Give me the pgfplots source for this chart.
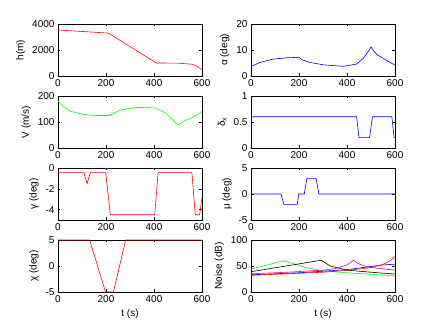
\documentclass[border=0pt]{standalone}
\usepackage{fontspec}
\setmainfont{Liberation Sans}
\usepackage{pgfplots}
\pgfplotsset{compat=1.18}
\pgfplotsset{
  mat/.style={
    scale only axis, width=144pt, height=52pt,
    anchor=south west,
    xmin=0, xmax=600, xtick={0,200,400,600},
    tick align=inside, major tick length=2.5pt,
    axis line style={line width=0.5pt},
    every tick/.style={black, line width=0.4pt},
    ticklabel style={font=\fontsize{10}{12}\selectfont},
    label style={font=\fontsize{10}{12}\selectfont},
    /pgf/number format/assume math mode=true,
    /pgf/number format/1000 sep={},
    scaled y ticks=false,
    every axis plot/.append style={line width=0.6pt, mark=none},
  }
}

\begin{document}
\begin{tikzpicture}[x=1pt,y=1pt]
\path (0,0) rectangle (437,328);

% row 1
\begin{axis}[mat, at={(58pt,252pt)}, ymin=0, ymax=4000, ytick={0,2000,4000}, ylabel={h(m)}]
\addplot[red] coordinates {(0,3540) (210,3300) (410,1000) (500,990) (560,900) (580,750) (600,460)};
\end{axis}
\begin{axis}[mat, at={(251pt,252pt)}, ymin=0, ymax=20, ytick={0,10,20}, ylabel={α (deg)}]
\addplot[blue] coordinates {(0,3.6) (37,5.2) (93,6.5) (149,7.0) (201,7.2) (211,6.3) (246,5.2) (301,4.3) (385,3.7) (440,4.6) (468,6.8) (490,9.6) (500,11.2) (512,9.6) (524,8.3) (544,7.2) (572,5.6) (593,4.5) (600,4.5)};
\end{axis}

% row 2
\begin{axis}[mat, at={(58pt,180pt)}, ymin=0, ymax=200, ytick={0,100,200}, ylabel={V (m/s)}]
\addplot[green] coordinates {(0,181) (20,162) (50,142) (105,129) (161,125) (214,125) (258,145) (300,153) (342,156) (404,154) (446,136) (501,89) (529,106) (564,119) (600,140)};
\end{axis}
\begin{axis}[mat, at={(251pt,180pt)}, ymin=0, ymax=1, ytick={0,0.5,1}, ylabel={δ\textsubscript{x}}]
\addplot[blue] coordinates {(0,0.6) (440,0.6) (450,0.2) (494,0.2) (506,0.6) (587,0.6) (596,0.2) (600,0.2)};
\end{axis}

% row 3
\begin{axis}[mat, at={(58pt,108pt)}, ymin=-5, ymax=0, ytick={-4,-2,0}, ylabel={γ (deg)}]
\addplot[red] coordinates {(0,-0.45) (108,-0.45) (121,-1.5) (135,-0.45) (199,-0.45) (218,-4.5) (403,-4.5) (417,-0.45) (558,-0.45) (572,-4.5) (590,-4.5) (600,-2.9)};
\end{axis}
\begin{axis}[mat, at={(251pt,108pt)}, ymin=-5, ymax=5, ytick={-5,0,5}, ylabel={μ (deg)}]
\addplot[blue] coordinates {(0,0) (125,0) (137,-2) (193,-2) (199,0) (222,0) (233,3) (271,3) (283,0) (600,0)};
\end{axis}

% row 4
\begin{axis}[mat, at={(58pt,36pt)}, ymin=-5, ymax=5, ytick={-5,0,5}, ylabel={χ (deg)}, xlabel={t (s)}]
\addplot[red] coordinates {(0,5) (132,5) (198,-5) (231,-5) (282,5) (600,5)};
\end{axis}
\begin{axis}[mat, at={(251pt,36pt)}, ymin=0, ymax=100, ytick={0,50,100}, ylabel={Noise (dB)}, xlabel={t (s)}]
\addplot[green] coordinates {(0,44) (137,60) (230,47) (308,40) (433,36) (600,31)};
\addplot[black] coordinates {(0,39) (292,61) (330,50) (400,42) (500,38) (600,34.5)};
\addplot[magenta] coordinates {(0,35) (150,38) (300,42) (350,45) (400,52) (426,61) (450,54) (480,49) (520,46) (600,42)};
\addplot[blue] coordinates {(0,33) (200,37) (300,40) (400,43) (450,46) (500,49) (550,52) (600,53.5)};
\addplot[red] coordinates {(0,32) (200,36) (300,38) (400,41.5) (500,47) (550,53) (580,60) (600,68)};
\end{axis}
\end{tikzpicture}
\end{document}
